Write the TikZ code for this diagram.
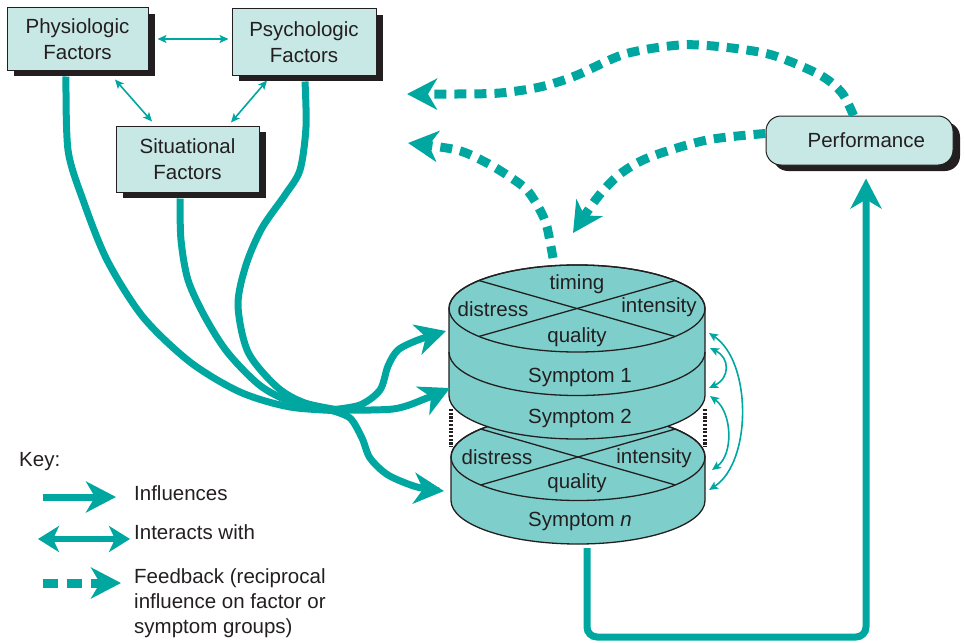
\documentclass[tikz,border=0pt]{standalone}
\usepackage{fontspec}
\setmainfont{Liberation Sans}
\usetikzlibrary{arrows.meta, shadows, calc}
\definecolor{ink}{RGB}{35,31,32}
\definecolor{boxfill}{RGB}{200,232,230}
\definecolor{cylfill}{RGB}{126,207,203}
\definecolor{symteal}{RGB}{0,167,160}
\tikzset{
    lbl/.style = {text=ink, inner sep=0pt, font=\fontsize{20.5}{26}\selectfont},
    factor/.style = {lbl, draw=ink, line width=1pt, fill=boxfill, align=center,
        drop shadow={shadow xshift=7pt, shadow yshift=-6pt, fill=ink, opacity=1}},
    cyl/.style = {draw=ink, line width=1.3pt, fill=cylfill},
    cylline/.style = {draw=ink, line width=1.3pt},
    influence/.style = {draw=symteal, line width=7pt, -{Stealth[length=30pt, width=31pt, inset=9pt]}},
    feedback/.style = {influence, line width=9pt, dash pattern=on 12pt off 8pt},
    interact/.style = {draw=symteal, line width=1.6pt, {Stealth[length=9pt, width=8pt, inset=2pt]}-{Stealth[length=9pt, width=8pt, inset=2pt]}},
    interact key/.style = {draw=symteal, line width=6pt, {Stealth[length=21pt, width=26pt, inset=6pt]}-{Stealth[length=21pt, width=26pt, inset=6pt]}},
    gap/.style = {draw=ink, line width=4pt, dash pattern=on 2.2pt off 1.5pt}
}

\begin{document}
\begin{tikzpicture}[x=1pt, y=-1pt]
    \useasboundingbox (0,0) rectangle (965,642);

    \node[factor, minimum width=141pt, minimum height=62pt] (physio) at (77.5,39) {Physiologic\\Factors};
    \node[factor, minimum width=144pt, minimum height=66pt] (psycho) at (304,42) {Psychologic\\Factors};
    \node[factor, minimum width=143pt, minimum height=66pt] (situ) at (187.5,159) {Situational\\Factors};
    \node[factor, rounded corners=15pt, minimum width=187pt, minimum height=49pt, text width=175pt, align=right] (perf) at (859.5,140.5) {Performance\hspace*{22pt}};

    \draw[interact] ([xshift=9pt]physio.east) -- ([xshift=-3pt]psycho.west |- physio.east);
    \draw[interact] ([shift={(37.5pt,-9pt)}]physio.south) -- ([shift={(-35.5pt,4pt)}]situ.north);
    \draw[interact] ([shift={(-37pt,-5pt)}]psycho.south) -- ([shift={(43.5pt,3pt)}]situ.north);

    % lower cylinder (Symptom n)
    \coordinate (topN) at (578,457);
    \filldraw[cyl] (451,457) -- (451,500.5) arc[start angle=180, end angle=360, x radius=127pt, y radius=43.5pt]
        -- (705,457) arc[start angle=0, end angle=180, x radius=127pt, y radius=43.5pt] -- cycle;
    \draw[cylline] (topN) ellipse[x radius=127pt, y radius=43.5pt];
    \draw[cylline] ([shift={(140:127pt and 43.5pt)}]topN) -- ([shift={(-40:127pt and 43.5pt)}]topN);
    \draw[cylline] ([shift={(40:127pt and 43.5pt)}]topN) -- ([shift={(220:127pt and 43.5pt)}]topN);

    % upper cylinder (Symptom 1 and 2)
    \coordinate (top1) at (577,308.5);
    \filldraw[cyl] (449,308.5) -- (449,395.5) arc[start angle=180, end angle=360, x radius=128pt, y radius=43.5pt]
        -- (705,308.5) arc[start angle=0, end angle=180, x radius=128pt, y radius=43.5pt] -- cycle;
    \draw[cylline] (top1) ellipse[x radius=128pt, y radius=43.5pt];
    \draw[cylline] (449,352) arc[start angle=180, end angle=360, x radius=128pt, y radius=43.5pt];
    \draw[cylline] ([shift={(140:128pt and 43.5pt)}]top1) -- ([shift={(-40:128pt and 43.5pt)}]top1);
    \draw[cylline] ([shift={(40:128pt and 43.5pt)}]top1) -- ([shift={(220:128pt and 43.5pt)}]top1);

    \draw[gap] (451,409) -- (451,447);
    \draw[gap] (705,409) -- (705,447);

    \node[lbl] (timing1) at (577,284) {timing};
    \node[lbl] (distress1) at (493,309) {distress};
    \node[lbl] (intensity1) at (659,307) {intensity};
    \node[lbl] (quality1) at (577,337) {quality};
    \node[lbl] (sym1) at (580,377) {Symptom 1};
    \node[lbl] (sym2) at (580,418) {Symptom 2};
    \node[lbl] (distressN) at (497,457) {distress};
    \node[lbl] (intensityN) at (654,458) {intensity};
    \node[lbl] (qualityN) at (577,483) {quality};
    \node[lbl] (symN) at (580,521) {Symptom \textit{n}};

    % influences from the factor groups
    \coordinate (physio-out) at ([shift={(-11.5pt,-6pt)}]physio.south);
    \coordinate (psycho-out) at ([shift={(1pt,-6pt)}]psycho.south);
    \coordinate (situ-out) at ([shift={(-7.5pt,-6pt)}]situ.south);
    \coordinate (hub) at (330,410);
    \draw[influence, -] plot[smooth] coordinates {(physio-out) (68,150) (83,200) (107,260) (143,317) (190,362) (240,392) (290,407) (345,411)};
    \draw[influence, -] plot[smooth] coordinates {(situ-out) (181,240) (188,280) (205,317) (228,353) (262,387) (300,405) (345,411)};
    \draw[influence, -] plot[smooth] coordinates {(psycho-out) (306,127) (300,170) (285,195) (262,228) (246,265) (238,305) (248,352) (277,387) (305,403) (345,411)};
    \draw[influence] plot[smooth] coordinates {(hub) (360,405) (380,390) (388,366) (398,350) (418,340) (446,331)};
    \draw[influence] plot[smooth] coordinates {(hub) (393,409) (427,398) (450,388)};
    \draw[influence] plot[smooth] coordinates {(hub) (350,418) (362,438) (370,458) (388,475) (417,487) (444,491)};

    % symptoms interact
    \coordinate (s1a) at (709,333);
    \coordinate (s1b) at (710,348);
    \coordinate (s2a) at (709,388);
    \coordinate (s2b) at (710,396);
    \coordinate (sNa) at (712,470);
    \coordinate (sNb) at (709,490);
    \draw[interact] (s1a) .. controls (752,362) and (752,462) .. (sNb);
    \draw[interact] (s1b) .. controls (730,358) and (730,378) .. (s2a);
    \draw[interact] (s2b) .. controls (732,412) and (734,454) .. (sNa);

    % symptoms to performance
    \coordinate (symN-out) at (587,548);
    \coordinate (perf-in) at ([shift={(6.5pt,-13pt)}]perf.south);
    \coordinate (floor) at (0,637);
    \draw[influence, rounded corners=10pt] (symN-out) |- (floor -| perf-in) -- (perf-in);

    % feedback
    \coordinate (perf-top) at ([xshift=-6pt]perf.north);
    \coordinate (perf-left) at ([yshift=7pt]perf.west);
    \coordinate (sym-top) at (553,258);
    \draw[feedback] plot[smooth] coordinates {(perf-top) (842,93) (820,75) (772,55) (723,47) (680,45) (625,54) (575,76) (540,87) (500,93) (457,94) (407,94)};
    \draw[feedback] plot[smooth] coordinates {(perf-left) (707,140) (650,157) (620,174) (597,198) (573,233)};
    \draw[feedback] plot[smooth] coordinates {(sym-top) (547,227) (540,210) (527,190) (510,177) (487,163) (457,150) (408,143)};

    % key
    \node[lbl, anchor=west] (key) at (19,462) {Key:};
    \node[lbl, anchor=west] (kinf) at (134,493) {Influences};
    \node[lbl, anchor=west] (kint) at (134,532) {Interacts with};
    \node[lbl, anchor=west, align=left, font=\fontsize{20.5}{25}\selectfont] (kfb) at (134,603) {Feedback (reciprocal\\influence on factor or\\symptom groups)};
    \coordinate (kinf-a) at (43,497);
    \coordinate (kinf-b) at (116,497);
    \coordinate (kint-a) at (38,539);
    \coordinate (kint-b) at (130,539);
    \coordinate (kfb-a) at (43,583);
    \coordinate (kfb-b) at (121,583);
    \draw[influence] (kinf-a) -- (kinf-b);
    \draw[interact key] (kint-a) -- (kint-b);
    \draw[feedback, dash pattern=on 15pt off 9pt] (kfb-a) -- (kfb-b);
\end{tikzpicture}
\end{document}
